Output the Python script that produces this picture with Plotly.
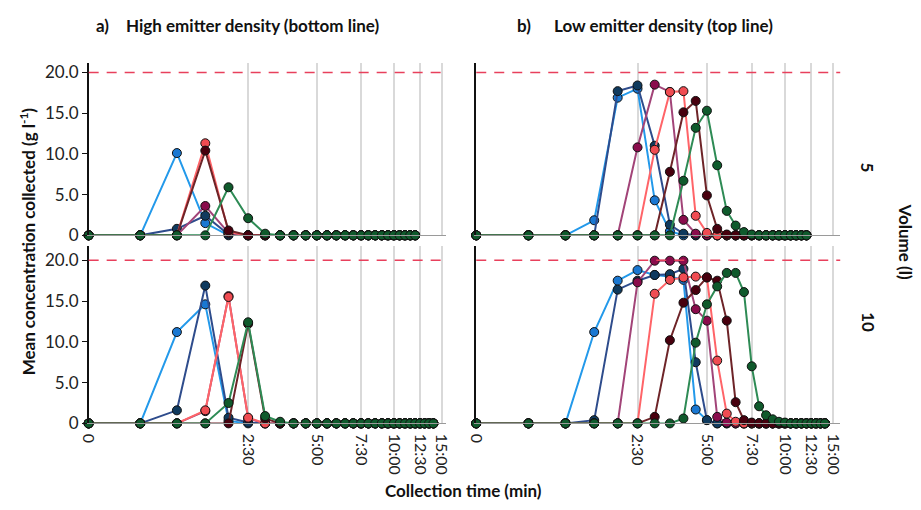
import math
import plotly.graph_objects as go

# Sampling grid (minutes): every 30 s
TIMES_12 = [0, 0.5, 1, 1.5, 2, 2.5, 3, 3.5, 4, 4.5, 5, 5.5, 6, 6.5, 7, 7.5,
            8, 8.5, 9, 9.5, 10, 10.5, 11, 11.5, 12]
TIMES_14 = TIMES_12 + [12.5, 13, 13.5, 14]

# Time axis ticks
TICK_MINUTES = [0, 2.5, 5, 7.5, 10, 12.5, 15]
TICK_LABELS = ["0", "2:30", "5:00", "7:30", "10:00", "12:30", "15:00"]
Y_TICKS = [0, 5, 10, 15, 20]
Y_TICK_LABELS = ["0", "5.0", "10.0", "15.0", "20.0"]
TARGET = 20.0

SERIES = ["s1", "s2", "s3", "s4", "s5", "s6"]

# a) high emitter density, 5 l
HIGH_5 = {
    "s1": [0, 0, 10.1, 1.5, 0, 0, 0, 0, 0, 0, 0, 0, 0, 0, 0, 0, 0, 0, 0, 0, 0, 0, 0, 0, 0],
    "s2": [0, 0, 0.8, 2.4, 0.1, 0, 0, 0, 0, 0, 0, 0, 0, 0, 0, 0, 0, 0, 0, 0, 0, 0, 0, 0, 0],
    "s3": [0, 0, 0, 3.6, 0.3, 0, 0, 0, 0, 0, 0, 0, 0, 0, 0, 0, 0, 0, 0, 0, 0, 0, 0, 0, 0],
    "s4": [0, 0, 0, 11.3, 0.4, 0, 0, 0, 0, 0, 0, 0, 0, 0, 0, 0, 0, 0, 0, 0, 0, 0, 0, 0, 0],
    "s5": [0, 0, 0, 10.4, 0.6, 0, 0, 0, 0, 0, 0, 0, 0, 0, 0, 0, 0, 0, 0, 0, 0, 0, 0, 0, 0],
    "s6": [0, 0, 0, 0, 5.9, 2.1, 0.2, 0, 0, 0, 0, 0, 0, 0, 0, 0, 0, 0, 0, 0, 0, 0, 0, 0, 0],
}

# b) low emitter density, 5 l
LOW_5 = {
    "s1": [0, 0, 0, 1.85, 16.9, 18.0, 4.3, 0.5, 0, 0, 0, 0, 0, 0, 0, 0, 0, 0, 0, 0, 0, 0, 0, 0, 0],
    "s2": [0, 0, 0, 0, 17.7, 18.4, 11.0, 1.3, 0.2, 0, 0, 0, 0, 0, 0, 0, 0, 0, 0, 0, 0, 0, 0, 0, 0],
    "s3": [0, 0, 0, 0, 0, 10.8, 18.5, 17.6, 1.9, 0.2, 0, 0, 0, 0, 0, 0, 0, 0, 0, 0, 0, 0, 0, 0, 0],
    "s4": [0, 0, 0, 0, 0, 0, 10.5, 17.6, 17.7, 2.4, 0.3, 0, 0, 0, 0, 0, 0, 0, 0, 0, 0, 0, 0, 0, 0],
    "s5": [0, 0, 0, 0, 0, 0, 0, 7.8, 15.1, 16.5, 4.9, 0.8, 0.1, 0, 0, 0, 0, 0, 0, 0, 0, 0, 0, 0, 0],
    "s6": [0, 0, 0, 0, 0, 0, 0, 0, 6.7, 13.2, 15.3, 8.6, 3.0, 1.2, 0.4, 0.1, 0, 0, 0, 0, 0, 0, 0, 0, 0],
}

# a) high emitter density, 10 l
HIGH_10 = {
    "s1": [0, 0, 11.2, 14.6, 0.3, 0, 0, 0, 0, 0, 0, 0, 0, 0, 0, 0, 0, 0, 0, 0, 0, 0, 0, 0, 0, 0, 0, 0, 0],
    "s2": [0, 0, 1.6, 16.9, 0.7, 0.1, 0, 0, 0, 0, 0, 0, 0, 0, 0, 0, 0, 0, 0, 0, 0, 0, 0, 0, 0, 0, 0, 0, 0],
    "s3": [0, 0, 0, 1.5, 15.6, 0.6, 0, 0, 0, 0, 0, 0, 0, 0, 0, 0, 0, 0, 0, 0, 0, 0, 0, 0, 0, 0, 0, 0, 0],
    "s4": [0, 0, 0, 1.6, 15.5, 0.7, 0, 0, 0, 0, 0, 0, 0, 0, 0, 0, 0, 0, 0, 0, 0, 0, 0, 0, 0, 0, 0, 0, 0],
    "s5": [0, 0, 0, 0, 0, 12.2, 0.6, 0, 0, 0, 0, 0, 0, 0, 0, 0, 0, 0, 0, 0, 0, 0, 0, 0, 0, 0, 0, 0, 0],
    "s6": [0, 0, 0, 0, 2.5, 12.4, 0.9, 0.2, 0, 0, 0, 0, 0, 0, 0, 0, 0, 0, 0, 0, 0, 0, 0, 0, 0, 0, 0, 0, 0],
}

# b) low emitter density, 10 l
LOW_10 = {
    "s1": [0, 0, 0, 11.2, 17.5, 18.8, 18.2, 18.0, 17.6, 1.7, 0.4, 0, 0, 0, 0, 0, 0, 0, 0, 0, 0, 0, 0, 0, 0, 0, 0, 0, 0],
    "s2": [0, 0, 0, 0.4, 16.4, 17.5, 18.2, 18.3, 18.95, 7.5, 0.4, 0, 0, 0, 0, 0, 0, 0, 0, 0, 0, 0, 0, 0, 0, 0, 0, 0, 0],
    "s3": [0, 0, 0, 0, 0, 17.3, 19.95, 19.95, 19.95, 14.0, 12.6, 0.8, 0.1, 0, 0, 0, 0, 0, 0, 0, 0, 0, 0, 0, 0, 0, 0, 0, 0],
    "s4": [0, 0, 0, 0, 0, 0, 15.9, 17.6, 17.9, 18.0, 17.9, 7.7, 1.2, 0.2, 0, 0, 0, 0, 0, 0, 0, 0, 0, 0, 0, 0, 0, 0, 0],
    "s5": [0, 0, 0, 0, 0, 0, 0.8, 10.2, 14.8, 16.35, 17.9, 17.5, 12.6, 2.6, 0.4, 0.1, 0, 0, 0, 0, 0, 0, 0, 0, 0, 0, 0, 0, 0],
    "s6": [0, 0, 0, 0, 0, 0, 0, 0, 0.6, 9.9, 14.6, 16.8, 18.45, 18.45, 16.1, 7.0, 2.1, 1.0, 0.5, 0.2, 0.1, 0, 0, 0, 0, 0, 0, 0, 0],
}

LINE_COLORS = {"s1": "#2399ea", "s2": "#2e4c8c", "s3": "#a24478", "s4": "#ff6468",
               "s5": "#6e2428", "s6": "#2e8b55"}
MARKER_COLORS = {"s1": "#1a78d2", "s2": "#0f3a5e", "s3": "#8a0c4c", "s4": "#f04c52",
                 "s5": "#48000e", "s6": "#0f5a2c"}

W, H = 921, 510
FONT = "Lato, 'Open Sans', sans-serif"


def px_x(p):
    return p / W


def px_y(p):
    return 1 - p / H


# panel -> (xaxis id, yaxis id, data, times, x pixel span, y pixel span, x max, y max)
PANELS = [
    ("x", "y", HIGH_5, TIMES_12, (82, 445), (63, 239.5), 16.53, 21.2),
    ("x2", "y2", LOW_5, TIMES_12, (476, 846), (63, 239.5), 16.9, 21.2),
    ("x3", "y3", HIGH_10, TIMES_14, (82, 445), (250, 431.7), 16.53, 21.8),
    ("x4", "y4", LOW_10, TIMES_14, (476, 846), (250, 431.7), 16.9, 21.8),
]

fig = go.Figure()
layout = {}
for i, (xa, ya, data, times, (xl, xr), (yt, yb), xmax, ymax) in enumerate(PANELS):
    # time is shown on a log scale of (minutes + 1)
    xs = [t + 1 for t in times]
    for s in SERIES:
        fig.add_trace(go.Scatter(
            x=xs, y=data[s], xaxis=xa, yaxis=ya, mode="lines+markers",
            line=dict(color=LINE_COLORS[s], width=2),
            marker=dict(color=MARKER_COLORS[s], size=9,
                        line=dict(color="#111111", width=1)),
            cliponaxis=False, showlegend=False, hoverinfo="x+y"))
    bottom = i >= 2
    left = i % 2 == 0
    xname = "xaxis" if xa == "x" else "xaxis" + xa[1:]
    yname = "yaxis" if ya == "y" else "yaxis" + ya[1:]
    layout[xname] = dict(
        type="log", domain=[px_x(xl), px_x(xr)], anchor=ya,
        range=[0, math.log10(xmax)],
        tickvals=[m + 1 for m in TICK_MINUTES], ticktext=TICK_LABELS,
        showticklabels=bottom, tickangle=90, ticks="", ticklabelstandoff=6,
        tickfont=dict(family=FONT, size=16, color="#222222"),
        showgrid=True, gridcolor="#d9d9d9", gridwidth=2,
        showline=True, linecolor="#9a9a9a", linewidth=1.2, zeroline=False)
    layout[yname] = dict(
        domain=[px_y(yb), px_y(yt)], anchor=xa, range=[0, ymax],
        tickvals=Y_TICKS, ticktext=Y_TICK_LABELS, showticklabels=left,
        ticks="outside" if left else "", ticklen=5, tickcolor="#111111",
        tickfont=dict(family=FONT, size=17, color="#222222"),
        showgrid=False, showline=True, linecolor="#111111", linewidth=1.5,
        zeroline=False)
    fig.add_shape(type="line", xref=f"{xa} domain", yref=ya, x0=0, x1=1,
                  y0=TARGET, y1=TARGET,
                  line=dict(color="#e8405c", width=1.5, dash="10px,8px"))

ann_font = dict(family=FONT, size=17, color="#111111")
annotations = [
    dict(text="<b>a)</b>", x=px_x(87), y=px_y(25), xanchor="left"),
    dict(text="<b>High emitter density (bottom line)</b>", x=px_x(118), y=px_y(25), xanchor="left"),
    dict(text="<b>b)</b>", x=px_x(515), y=px_y(25), xanchor="left"),
    dict(text="<b>Low emitter density (top line)</b>", x=px_x(553), y=px_y(25), xanchor="left"),
    dict(text="<b>Mean concentration collected (g l<sup>-1</sup>)</b>", x=px_x(20), y=px_y(246),
         xanchor="center", textangle=-90),
    dict(text="<b>Collection time (min)</b>", x=px_x(463), y=px_y(500), xanchor="center"),
    dict(text="<b>5</b>", x=px_x(874), y=px_y(170), xanchor="center", textangle=90),
    dict(text="<b>10</b>", x=px_x(874), y=px_y(328), xanchor="center", textangle=90),
    dict(text="<b>Volume (l)</b>", x=px_x(912), y=px_y(246), xanchor="center", textangle=90),
]
for a in annotations:
    a.update(xref="paper", yref="paper", showarrow=False, yanchor="middle", font=ann_font)

fig.update_layout(
    width=W, height=H, margin=dict(l=0, r=0, t=0, b=0),
    paper_bgcolor="white", plot_bgcolor="white",
    annotations=annotations, **layout)

fig.write_html("out.html")
